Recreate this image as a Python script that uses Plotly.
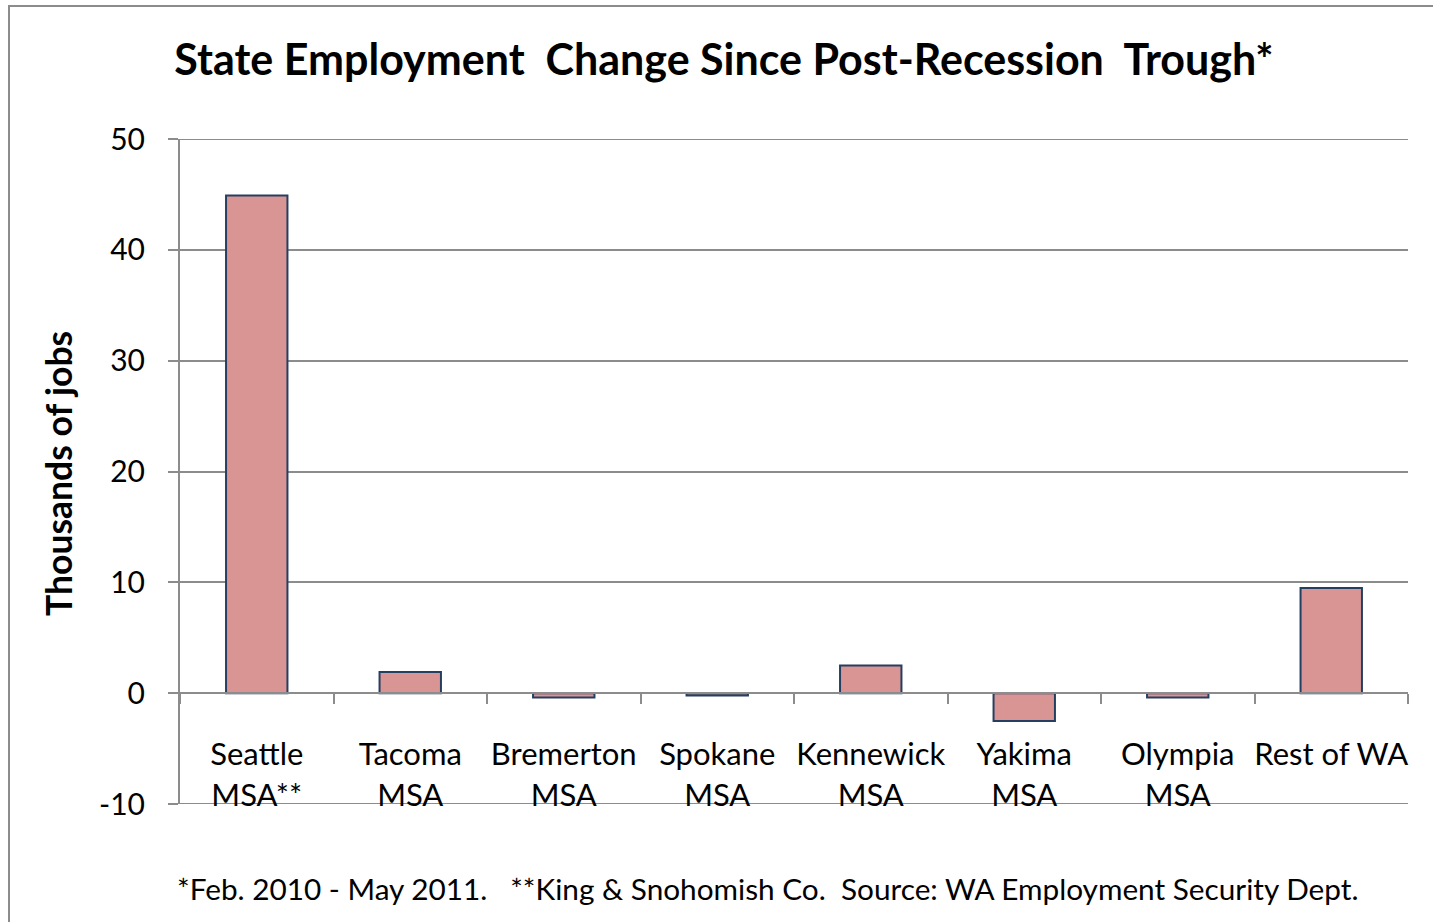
import plotly.graph_objects as go

categories = ["Seattle<br>MSA**", "Tacoma<br>MSA", "Bremerton<br>MSA", "Spokane<br>MSA",
              "Kennewick<br>MSA", "Yakima<br>MSA", "Olympia<br>MSA", "Rest of WA"]
values = [44.9, 1.9, -0.4, -0.2, 2.5, -2.5, -0.4, 9.5]
y_ticks = [-10, 0, 10, 20, 30, 40, 50]

W, H = 1433, 922
# page-pixel positions of the plot area
PL, PR, PT, PB = 180, 1408, 139, 804
L, T, R, B = PL, PT, W - PR, H - PB
pw, ph = PR - PL, PB - PT

FONT = "Lato"
GRID = "#8c8c8c"

fig = go.Figure()
fig.add_trace(go.Bar(
    x=categories, y=values,
    marker=dict(color="#D99594", line=dict(color="#243F60", width=2)),
    width=0.4,
))

def px_x(p):
    return (p - PL) / pw

def px_y(p):
    return (PB - p) / ph

zero_pos = (0 - (-10)) / 60.0

fig.update_layout(
    width=W, height=H,
    margin=dict(l=L, r=R, t=T, b=B, autoexpand=False),
    paper_bgcolor="white", plot_bgcolor="white",
    showlegend=False,
    font=dict(family=FONT, size=30, color="black"),
    title=dict(text="<b>State Employment  Change Since Post-Recession  Trough*</b>",
               font=dict(family=FONT, size=43, color="black"),
               x=724 / W, xanchor="center", xref="container",
               y=1 - 60 / H, yanchor="middle", yref="container"),
    xaxis=dict(
        anchor="free", position=zero_pos,
        showline=True, linecolor=GRID, linewidth=2,
        ticks="outside", tickson="boundaries", ticklen=10, tickwidth=2, tickcolor=GRID,
        showgrid=False, ticklabelstandoff=34, tickangle=0, automargin=False,
        tickfont=dict(family=FONT, size=31, color="black"),
    ),
    yaxis=dict(
        range=[-10, 50], tickvals=y_ticks, ticktext=[str(v) for v in y_ticks],
        showgrid=True, gridcolor=GRID, gridwidth=2,
        zeroline=False,
        showline=True, linecolor=GRID, linewidth=2,
        ticks="outside", ticklen=10, tickwidth=2, tickcolor=GRID,
        ticklabelstandoff=17, automargin=False,
        tickfont=dict(family=FONT, size=30, color="black"),
    ),
)

# gridlines at the range edges (-10 and 50)
for yv in (y_ticks[0], y_ticks[-1]):
    fig.add_shape(type="line", xref="paper", yref="y", x0=px_x(170), x1=1, y0=yv, y1=yv,
                  line=dict(color=GRID, width=2), layer="below")

# outer chart border
fig.add_shape(type="rect", xref="paper", yref="paper",
              x0=px_x(9), x1=1.2, y0=px_y(6), y1=-0.5,
              line=dict(color=GRID, width=2), fillcolor="rgba(0,0,0,0)")

fig.add_annotation(text="<b>Thousands of jobs</b>", xref="paper", yref="paper",
                   x=px_x(58), y=px_y(474), xanchor="center", yanchor="middle",
                   textangle=-90, showarrow=False,
                   font=dict(family=FONT, size=35.5, color="black"))

fig.add_annotation(text="*Feb. 2010 - May 2011.   **King & Snohomish Co.  Source: WA Employment Security Dept.",
                   xref="paper", yref="paper",
                   x=px_x(768), y=px_y(888), xanchor="center", yanchor="middle",
                   showarrow=False,
                   font=dict(family=FONT, size=29.75, color="black"))

fig.write_html("out.html", config={"displayModeBar": False},
               post_script="document.body.style.margin='0';")
